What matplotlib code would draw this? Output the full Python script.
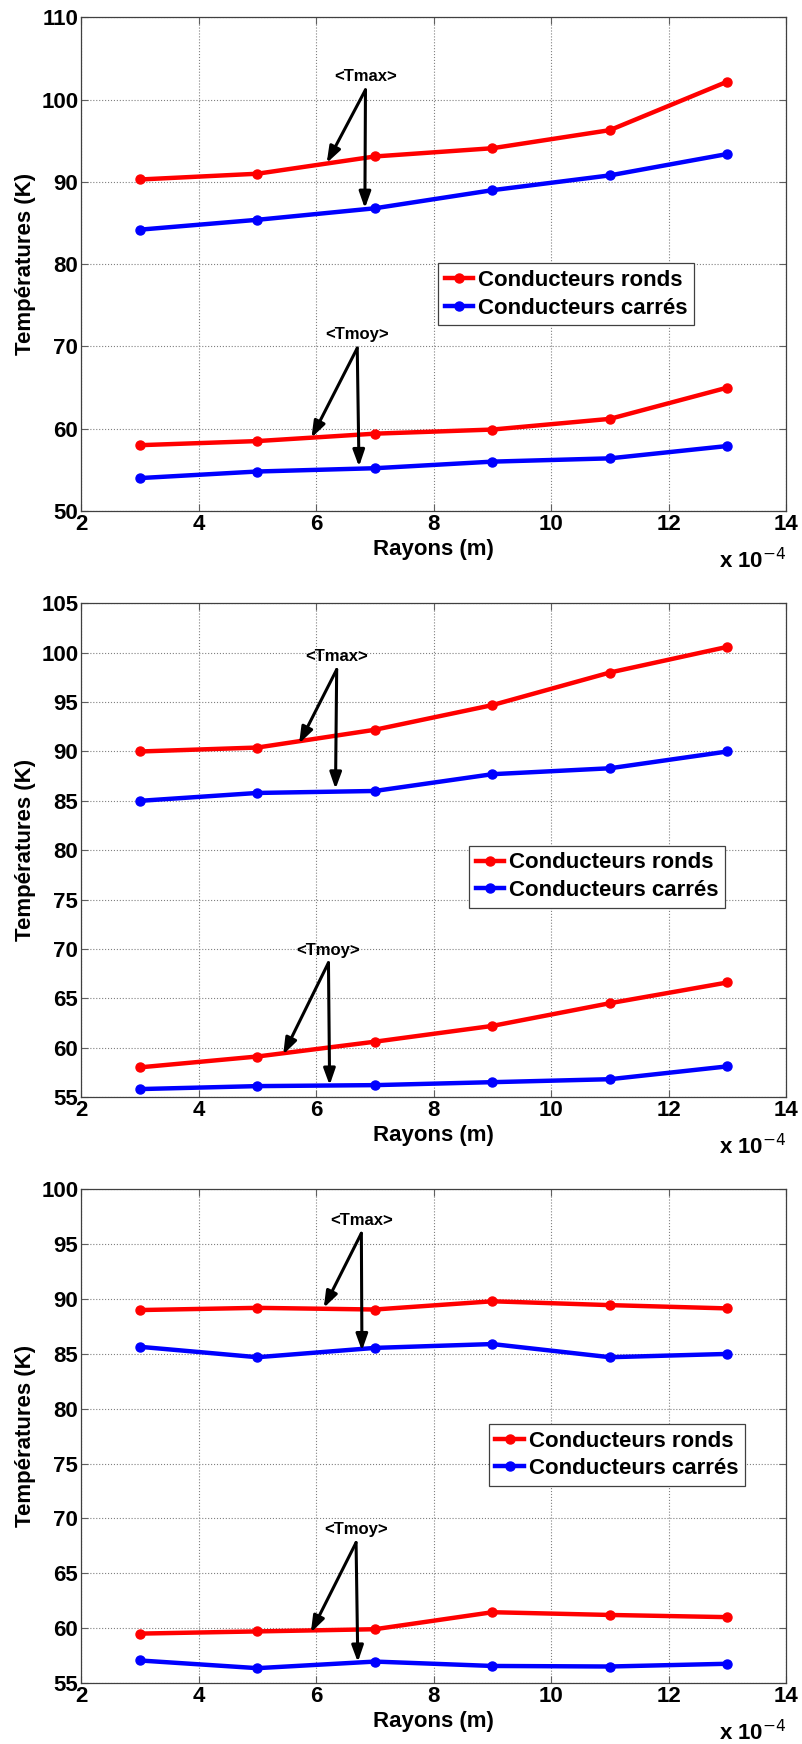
import matplotlib
matplotlib.use("Agg")
import matplotlib.pyplot as plt
from matplotlib.ticker import FuncFormatter, MultipleLocator

plt.rcParams['font.family'] = ['Liberation Sans', 'DejaVu Sans']

# rayons (m)
rayons = [3e-4, 5e-4, 7e-4, 9e-4, 11e-4, 13e-4]

# figure 1
tmax_ronds_1 = [90.3, 91.0, 93.1, 94.1, 96.3, 102.2]
tmax_carres_1 = [84.2, 85.4, 86.8, 89.0, 90.8, 93.4]
tmoy_ronds_1 = [58.0, 58.5, 59.4, 59.9, 61.2, 65.0]
tmoy_carres_1 = [54.0, 54.8, 55.2, 56.0, 56.4, 57.9]

# figure 2
tmax_ronds_2 = [90.0, 90.4, 92.2, 94.7, 98.0, 100.6]
tmax_carres_2 = [85.0, 85.8, 86.0, 87.7, 88.3, 90.0]
tmoy_ronds_2 = [58.0, 59.1, 60.6, 62.2, 64.5, 66.6]
tmoy_carres_2 = [55.8, 56.1, 56.2, 56.5, 56.8, 58.1]

# figure 3
tmax_ronds_3 = [89.0, 89.2, 89.05, 89.8, 89.45, 89.15]
tmax_carres_3 = [85.65, 84.7, 85.55, 85.9, 84.7, 85.0]
tmoy_ronds_3 = [59.5, 59.7, 59.9, 61.45, 61.2, 61.0]
tmoy_carres_3 = [57.05, 56.35, 56.95, 56.55, 56.5, 56.75]

panels = [
    dict(ronds=(tmax_ronds_1, tmoy_ronds_1), carres=(tmax_carres_1, tmoy_carres_1),
         ylim=(50, 110), ystep=10, bottom=0.707,
         tmax=((6.84, 102.8), (6.84, 101.2), (6.18, 92.3), (6.83, 86.8)),
         tmoy=((6.70, 71.5), (6.70, 69.8), (5.92, 58.9), (6.73, 55.4)),
         leg=(0.506, 0.502)),
    dict(ronds=(tmax_ronds_2, tmoy_ronds_2), carres=(tmax_carres_2, tmoy_carres_2),
         ylim=(55, 105), ystep=5, bottom=0.371,
         tmax=((6.35, 99.6), (6.35, 98.3), (5.71, 90.8), (6.33, 86.2)),
         tmoy=((6.21, 69.8), (6.21, 68.6), (5.44, 59.3), (6.23, 56.2)),
         leg=(0.55, 0.509)),
    dict(ronds=(tmax_ronds_3, tmoy_ronds_3), carres=(tmax_carres_3, tmoy_carres_3),
         ylim=(55, 100), ystep=5, bottom=0.035,
         tmax=((6.77, 97.2), (6.77, 96.0), (6.13, 89.2), (6.78, 85.3)),
         tmoy=((6.68, 69.0), (6.68, 67.8), (5.91, 59.6), (6.71, 56.9)),
         leg=(0.578, 0.525)),
]

fig = plt.figure(figsize=(8.03, 17.44), dpi=100)

for p in panels:
    ax = fig.add_axes([0.101, p['bottom'], 0.878, 0.283])
    x = rayons
    style = dict(marker='o', lw=3.2, ms=6.5)
    h1, = ax.plot(x, p['ronds'][0], color='#ff0000', label='Conducteurs ronds', **style)
    ax.plot(x, p['ronds'][1], color='#ff0000', **style)
    h2, = ax.plot(x, p['carres'][0], color='#0000ff', label='Conducteurs carrés', **style)
    ax.plot(x, p['carres'][1], color='#0000ff', **style)

    ax.set_xlim(2e-4, 14e-4)
    ax.set_ylim(*p['ylim'])
    ax.xaxis.set_major_locator(MultipleLocator(2e-4))
    ax.yaxis.set_major_locator(MultipleLocator(p['ystep']))
    ax.xaxis.set_major_formatter(FuncFormatter(lambda v, pos: '%d' % round(v * 1e4)))
    ax.grid(True, linestyle=':', color='#808080', lw=0.8)
    ax.tick_params(direction='in', top=True, right=True, labelsize=16, length=5, pad=2,
                   color='#606060')
    for lab in ax.get_xticklabels() + ax.get_yticklabels():
        lab.set_fontweight('bold')
    for s in ax.spines.values():
        s.set_color('#404040')
        s.set_linewidth(0.9)

    ax.set_xlabel('Rayons (m)', fontsize=16, fontweight='bold', labelpad=3)
    ax.set_ylabel('Températures (K)', fontsize=16, fontweight='bold', labelpad=4)
    ax.text(1.0, -0.1, r'x 10$^{-4}$', transform=ax.transAxes, ha='right', va='center',
            fontsize=16, fontweight='bold')

    for key, label in (('tmax', '<Tmax>'), ('tmoy', '<Tmoy>')):
        txt, tail, head1, head2 = p[key]
        ax.text(txt[0] * 1e-4, txt[1], label, ha='center', va='center', fontsize=12, fontweight='bold')
        for hd in (head1, head2):
            ax.annotate('', xy=(hd[0] * 1e-4, hd[1]), xytext=(tail[0] * 1e-4, tail[1]),
                        arrowprops=dict(arrowstyle='-|>,head_length=0.7,head_width=0.25',
                                        color='k', lw=2.2, mutation_scale=14,
                                        shrinkA=0, shrinkB=0))

    leg = ax.legend(handles=[h1, h2], loc='upper left', bbox_to_anchor=p['leg'],
                    prop=dict(size=16, weight='bold'),
                    fancybox=False, framealpha=1, edgecolor='#404040', handlelength=1.3,
                    handletextpad=0.2, borderpad=0.3, labelspacing=0.3, borderaxespad=0)
    leg.get_frame().set_linewidth(0.9)

fig.savefig('out.png', dpi=100)
